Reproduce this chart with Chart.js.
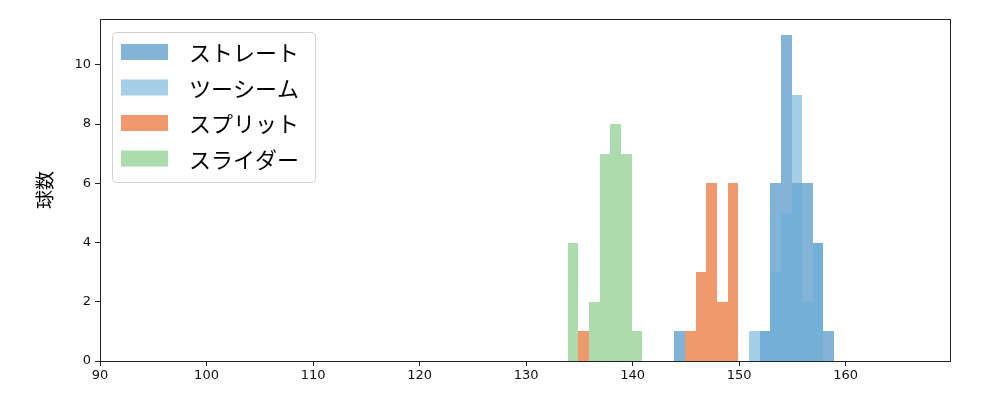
<!DOCTYPE html>
<html>
<head>
    <title>球数ヒストグラム</title>
    <script src="https://cdn.jsdelivr.net/npm/chart.js"></script>
    <style>
        body { margin: 0; background: #fff; }
        #wrap { width: 1000px; height: 400px; }
    </style>
</head>
<body>
    <div id="wrap"><canvas id="hist"></canvas></div>

    <script>
        // 球種ごとのビン（左端 km/h）と球数
        var straightBins = [144, 152, 153, 154, 155, 156, 157, 158];
        var straightCounts = [1, 1, 6, 11, 6, 6, 4, 1];
        var twoSeamBins = [151, 152, 153, 154, 155, 156, 157];
        var twoSeamCounts = [1, 1, 3, 5, 9, 2, 4];
        var splitBins = [135, 145, 146, 147, 148, 149];
        var splitCounts = [1, 1, 3, 6, 2, 6];
        var sliderBins = [134, 136, 137, 138, 139, 140];
        var sliderCounts = [4, 2, 7, 8, 7, 1];

        var labels = ['ストレート', 'ツーシーム', 'スプリット', 'スライダー'];
        var colors = ['rgba(49,130,189,0.6)', 'rgba(107,174,214,0.6)', 'rgba(230,85,13,0.6)', 'rgba(116,196,118,0.6)'];
        var xTicks = [90, 100, 110, 120, 130, 140, 150, 160];
        var yTicks = [0, 2, 4, 6, 8, 10];

        function toPoints(bins, counts) {
            return bins.map(function(b, i) { return { x: b + 0.42, y: counts[i] }; });
        }

        var seriesData = [
            toPoints(straightBins, straightCounts),
            toPoints(twoSeamBins, twoSeamCounts),
            toPoints(splitBins, splitCounts),
            toPoints(sliderBins, sliderCounts)
        ];

        var datasets = seriesData.map(function(d, i) {
            return {
                label: labels[i],
                data: d,
                backgroundColor: colors[i],
                borderWidth: 0,
                inflateAmount: 0,
                barPercentage: 1,
                categoryPercentage: 1,
                grouped: false,
                order: 4 - i
            };
        });

        // 隣り合うバーの隙間が出ないようにピクセル境界へ丸める
        var snapPlugin = {
            id: 'snap',
            beforeDatasetsDraw: function(chart) {
                chart.data.datasets.forEach(function(ds, di) {
                    chart.getDatasetMeta(di).data.forEach(function(el) {
                        var l = Math.round(el.x - el.width / 2);
                        var r = Math.round(el.x + el.width / 2);
                        el.x = (l + r) / 2;
                        el.width = r - l;
                        el.y = Math.round(el.y);
                        el.base = Math.round(el.base);
                    });
                });
            }
        };

        var framePlugin = {
            id: 'frame',
            afterDraw: function(chart) {
                var ctx = chart.ctx, a = chart.chartArea;
                ctx.save();
                ctx.strokeStyle = '#222';
                ctx.lineWidth = 1;
                ctx.strokeRect(a.left + 0.5, a.top + 0.5, a.right - a.left, a.bottom - a.top);

                // 凡例（左上）
                var x0 = a.left + 12, y0 = a.top + 13;
                ctx.fillStyle = 'rgba(255,255,255,0.8)';
                ctx.strokeStyle = '#d0d0d0';
                ctx.beginPath();
                ctx.roundRect(x0 + 0.5, y0 + 0.5, 203, 150, 4);
                ctx.fill();
                ctx.stroke();
                ctx.font = '22px "Noto Sans CJK JP"';
                ctx.textBaseline = 'middle';
                for (var i = 0; i < labels.length; i++) {
                    var cy = y0 + 20 + i * 35.5;
                    ctx.fillStyle = colors[i];
                    ctx.fillRect(x0 + 9, cy - 8, 47, 16);
                    ctx.fillStyle = '#000';
                    ctx.fillText(labels[i], x0 + 77, cy + 1);
                }
                ctx.restore();
            }
        };

        var ctx = document.getElementById('hist').getContext('2d');
        var chart = new Chart(ctx, {
            type: 'bar',
            data: { datasets: datasets },
            options: {
                responsive: true,
                maintainAspectRatio: false,
                animation: false,
                layout: { padding: { left: 0, top: 19, right: 50, bottom: 0 } },
                plugins: {
                    legend: { display: false },
                    tooltip: { enabled: false }
                },
                scales: {
                    x: {
                        type: 'linear',
                        min: 90,
                        max: 169.8,
                        offset: false,
                        afterBuildTicks: function(s) { s.ticks = xTicks.map(function(v) { return { value: v }; }); },
                        afterFit: function(s) { s.height = 39; },
                        grid: { display: true, drawOnChartArea: false, drawTicks: true, tickLength: 5, color: '#222', offset: false },
                        border: { display: true, color: '#222' },
                        ticks: { color: '#111', font: { family: 'DejaVu Sans', size: 13 }, padding: 2, maxRotation: 0 }
                    },
                    y: {
                        min: 0,
                        max: 11.55,
                        afterBuildTicks: function(s) { s.ticks = yTicks.map(function(v) { return { value: v }; }); },
                        afterFit: function(s) { s.width = 100; },
                        grid: { display: true, drawOnChartArea: false, drawTicks: true, tickLength: 5, color: '#222' },
                        border: { display: true, color: '#222' },
                        ticks: { color: '#111', font: { family: 'DejaVu Sans', size: 13 }, padding: 4 },
                        title: { display: true, text: '球数', color: '#000', font: { family: 'Noto Sans CJK JP', size: 19 }, padding: { top: 33, bottom: 0 } }
                    }
                }
            },
            plugins: [snapPlugin, framePlugin]
        });
    </script>
</body>
</html>
